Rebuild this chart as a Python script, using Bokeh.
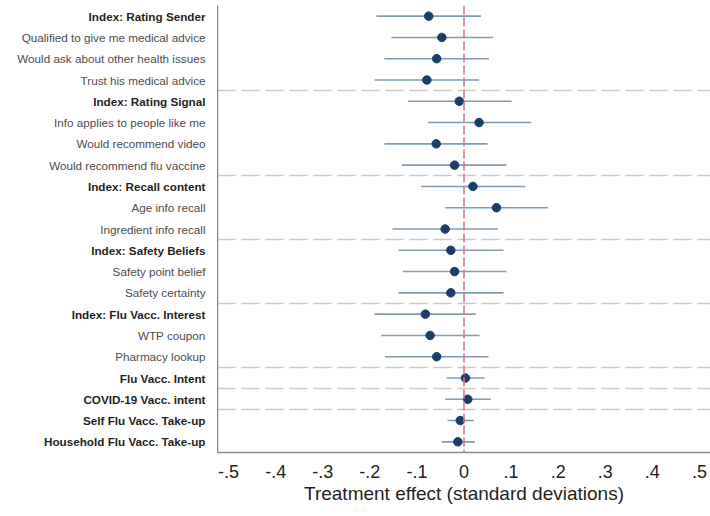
from bokeh.plotting import figure
from bokeh.models import ColumnDataSource, Range1d, FixedTicker, Span
from bokeh.layouts import row
from bokeh.core.properties import value
from bokeh.embed import file_html
from bokeh.resources import INLINE

# Outcome labels, top to bottom
labels = [
    "Index: Rating Sender",
    "Qualified to give me medical advice",
    "Would ask about other health issues",
    "Trust his medical advice",
    "Index: Rating Signal",
    "Info applies to people like me",
    "Would recommend video",
    "Would recommend flu vaccine",
    "Index: Recall content",
    "Age info recall",
    "Ingredient info recall",
    "Index: Safety Beliefs",
    "Safety point belief",
    "Safety certainty",
    "Index: Flu Vacc. Interest",
    "WTP coupon",
    "Pharmacy lookup",
    "Flu Vacc. Intent",
    "COVID-19 Vacc. intent",
    "Self Flu Vacc. Take-up",
    "Household Flu Vacc. Take-up",
]
is_bold = [True, False, False, False, True, False, False, False, True, False, False,
           True, False, False, True, False, False, True, True, True, True]

# Point estimates and 95% confidence bounds
estimate = [-0.075, -0.047, -0.058, -0.079, -0.010, 0.032, -0.059, -0.020, 0.019, 0.069, -0.040,
            -0.028, -0.020, -0.028, -0.082, -0.072, -0.058, 0.003, 0.008, -0.008, -0.013]
ci_low = [-0.186, -0.154, -0.169, -0.190, -0.119, -0.077, -0.169, -0.132, -0.091, -0.040, -0.152,
          -0.139, -0.130, -0.139, -0.190, -0.176, -0.168, -0.037, -0.040, -0.035, -0.048]
ci_high = [0.036, 0.062, 0.053, 0.032, 0.101, 0.143, 0.050, 0.090, 0.130, 0.178, 0.072,
           0.084, 0.090, 0.084, 0.025, 0.033, 0.052, 0.044, 0.057, 0.021, 0.023]

# Group separators (between rows)
separators = [3.5, 7.5, 10.5, 13.5, 16.5, 17.5, 18.5]

x_ticks = [-0.5, -0.4, -0.3, -0.2, -0.1, 0.0, 0.1, 0.2, 0.3, 0.4, 0.5]
x_tick_labels = ["-.5", "-.4", "-.3", "-.2", "-.1", "0", ".1", ".2", ".3", ".4", ".5"]

rows = list(range(len(labels)))
x_start, x_end = -0.5235, 0.5235
y_range = Range1d(len(labels) - 0.5, -0.5)

LABEL_W = 217

# Label panel
lab = figure(width=LABEL_W, height=516, output_backend="svg", toolbar_location=None,
             x_range=Range1d(0, LABEL_W), y_range=y_range,
             min_border_left=0, min_border_right=0, min_border_top=5, min_border_bottom=64)
lab.axis.visible = False
lab.grid.visible = False
lab.outline_line_color = None
for bold in (True, False):
    sel = [i for i in rows if is_bold[i] == bold]
    lsrc = ColumnDataSource(dict(x=[LABEL_W - 12] * len(sel), y=sel,
                                 text=[labels[i] for i in sel]))
    lab.text(x="x", y="y", text="text", source=lsrc,
             text_align="right", text_baseline="middle",
             text_font=value("Liberation Sans"), text_font_size="11.7px",
             text_font_style="bold" if bold else "normal",
             text_color="#1f1f1f" if bold else "#4d4d4d")

# Coefficient plot
p = figure(width=710 - LABEL_W, height=516, output_backend="svg", toolbar_location=None,
           x_range=Range1d(x_start, x_end), y_range=y_range,
           min_border_left=0, min_border_right=0, min_border_top=5, min_border_bottom=64)
p.outline_line_color = None
p.xgrid.visible = False
p.ygrid.visible = False

# Dashed group separators
p.hspan(y=separators, line_color="#c9c9c9", line_width=1.5, line_dash="18 6")

# Zero reference line
p.add_layout(Span(location=0, dimension="height", line_color="#d9788a",
                  line_width=1.6, line_dash="9 3"))

src = ColumnDataSource(dict(row=rows, est=estimate, lo=ci_low, hi=ci_high))
p.segment(x0="lo", x1="hi", y0="row", y1="row", source=src,
          line_color="#7f9bb6", line_width=1.6)
p.scatter(x="est", y="row", source=src, size=8.5, fill_color="#1b3e66",
          line_color="#1b3e66")

# Axes
p.yaxis.ticker = FixedTicker(ticks=[])
p.yaxis.major_tick_line_color = None
p.yaxis.minor_tick_line_color = None
p.yaxis.major_tick_out = 0
p.yaxis.major_label_standoff = 0
p.yaxis.major_label_text_font_size = "0px"
p.yaxis.axis_line_color = "#8c8c8c"
p.yaxis.axis_line_width = 1.5

p.xaxis.ticker = FixedTicker(ticks=x_ticks)
p.xaxis.major_label_overrides = {t: s for t, s in zip(x_ticks, x_tick_labels)}
p.xaxis.major_tick_line_color = None
p.xaxis.minor_tick_line_color = None
p.xaxis.major_tick_out = 0
p.xaxis.axis_line_color = "#8c8c8c"
p.xaxis.axis_line_width = 1.5
p.xaxis.major_label_text_font = "Liberation Sans"
p.xaxis.major_label_text_font_size = "18px"
p.xaxis.major_label_text_color = "#1f1f1f"
p.xaxis.major_label_standoff = 12
p.xaxis.axis_label = "Treatment effect (standard deviations)"
p.xaxis.axis_label_text_font = "Liberation Sans"
p.xaxis.axis_label_text_font_size = "19px"
p.xaxis.axis_label_text_font_style = "normal"
p.xaxis.axis_label_text_color = "#1f1f1f"
p.xaxis.axis_label_standoff = 2

layout = row(lab, p)
open("out.html", "w").write(file_html(layout, INLINE))
